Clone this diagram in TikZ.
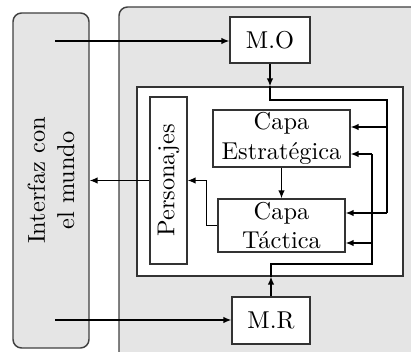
\documentclass[tikz,border=0pt]{standalone}
\usepackage{fontspec}
\usetikzlibrary{arrows.meta}
\begin{document}
\begin{tikzpicture}[x=0.41pt,y=-0.41pt,
  line width=0.45pt,
  box/.style={draw=black!80, fill=white, inner sep=0pt, align=center, line width=0.6pt},
  panel/.style={draw=black!75, fill=gray!20, rounded corners=3.5pt, line width=0.6pt},
  arr/.style={-{Latex[length=3.2pt,width=2.6pt]}},
]
\useasboundingbox (0,0) rectangle (411,352);
\clip (0,0) rectangle (411,352);
% panels
\draw[panel] (119,7) rectangle (440,380);
\node[panel, minimum width=76*0.41pt, minimum height=335*0.41pt, inner sep=0pt] (left) at (51,180.5) {};
\node[rotate=90, align=center] (lefttext) at (51,180.5) {Interfaz con\\el mundo};
% boxes
\node[box, minimum width=80*0.41pt, minimum height=46*0.41pt] (MO) at (270,40) {M.O};
\node[box, minimum width=78*0.41pt, minimum height=47*0.41pt] (MR) at (271,320.5) {M.R};
\node[box, minimum width=266*0.41pt, minimum height=189*0.41pt] (core) at (270,181.5) {};
\node[box, minimum width=37*0.41pt, minimum height=167*0.41pt] (Pers) at (168.5,180.5) {};
\node[rotate=90] (perstext) at (168.5,180.5) {Personajes};
\node[box, minimum width=137*0.41pt, minimum height=57*0.41pt] (Estr) at (281.5,138.5) {Capa\\Estratégica};
\node[box, minimum width=127*0.41pt, minimum height=53*0.41pt] (Tact) at (281.5,225.5) {Capa\\Táctica};
% coordinates
\coordinate (inTop) at (55,41);
\coordinate (inBot) at (55,320);
\coordinate (r1) at (387,100);
\coordinate (ea) at (387,127);
\coordinate (ta) at (387,213);
\coordinate (r2) at (372,264);
\coordinate (eb) at (372,154);
\coordinate (tb) at (372,243);
% connectors
\draw[arr] (inTop) -- (inTop -| MO.west);
\draw[arr] (inBot) -- (inBot -| MR.west);
\draw[arr] (MO.south) -- (MO.south |- core.north);
\draw (MO.south |- core.north) |- (r1) -- (ta);
\draw[arr] (ea) -- (ea -| Estr.east);
\draw[arr] (ta) -- (ta -| Tact.east);
\draw[arr] (MR.north) -- (MR.north |- core.south);
\draw (MR.north |- core.south) |- (r2) -- (eb);
\draw[arr] (eb) -- (eb -| Estr.east);
\draw[arr] (tb) -- (tb -| Tact.east);
\draw[arr] (Estr.south) -- (Tact.north);
\draw[arr] (Tact.west) -- ++(-11,0) |- (Pers.east);
\draw[arr] (Pers.west) -- (Pers.west -| left.east);
\end{tikzpicture}
\end{document}
